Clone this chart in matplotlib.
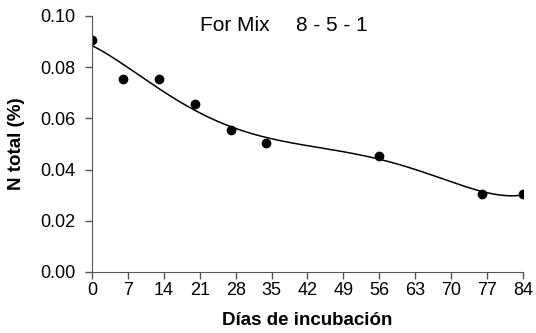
import numpy as np
import matplotlib.pyplot as plt

plt.rcParams['font.family'] = ['Liberation Sans', 'DejaVu Sans']

dias = [0, 6, 13, 20, 27, 34, 56, 76, 84]
n_total = [0.0905, 0.0755, 0.0755, 0.0655, 0.0555, 0.0505, 0.0455, 0.0305, 0.0305]
xticks = list(range(0, 85, 7))
yticks = [0.00, 0.02, 0.04, 0.06, 0.08, 0.10]

# trend line: polynomial fit of the measured points
coef = np.polyfit(dias, n_total, 5)
xs = np.linspace(0, 84, 300)
ys = np.polyval(coef, xs)

fig = plt.figure(figsize=(5.36, 3.33), dpi=100)
ax = fig.add_axes([0.1716, 0.1832, 0.8041, 0.7688])

ax.plot(xs, ys, color='black', lw=1.1)
ax.plot(dias, n_total, 'o', color='black', ms=6)

ax.set_xlim(0, 84)
ax.set_ylim(0, 0.10)
ax.set_xticks(xticks)
ax.set_yticks(yticks)
ax.set_yticklabels(['%.2f' % v for v in yticks])
ax.tick_params(direction='out', length=5, width=1, color='#555555', labelsize=13)
ax.tick_params(axis='y', pad=7)
ax.tick_params(axis='x', pad=2)

for s in ['top', 'right']:
    ax.spines[s].set_visible(False)
for s in ['left', 'bottom']:
    ax.spines[s].set_color('#555555')

ax.set_xlabel('Días de incubación', fontweight='bold', fontsize=13.5)
ax.set_ylabel('N total (%)', fontweight='bold', fontsize=13.5)
ax.xaxis.set_label_coords(0.5, -0.155)
ax.yaxis.set_label_coords(-0.155, 0.5)

ax.text(0.25, 0.963, 'For Mix', transform=ax.transAxes, fontsize=15, va='center', ha='left')
ax.text(0.473, 0.963, '8 - 5 - 1', transform=ax.transAxes, fontsize=15, va='center', ha='left')

fig.savefig('out.png', dpi=100)
